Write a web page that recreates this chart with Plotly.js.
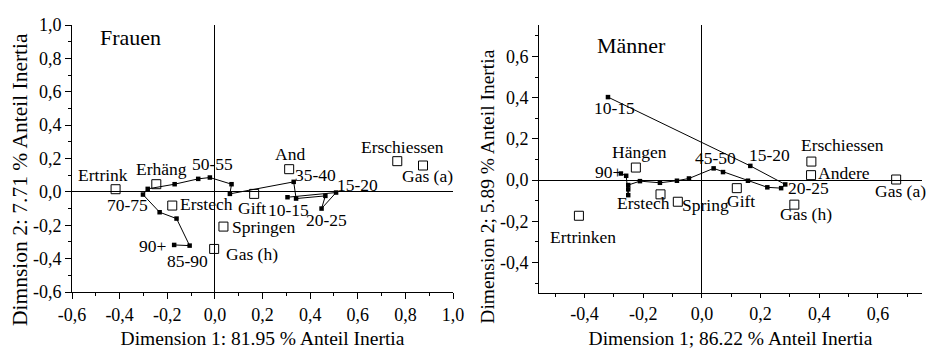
<!DOCTYPE html>
<html><head><meta charset="utf-8">
<script src="https://cdn.plot.ly/plotly-3.0.1.min.js"></script>
<style>html,body{margin:0;padding:0;background:#fff}#chart{width:926px;height:349px}</style>
</head><body><div id="chart"></div><script>
// ---- data ----
const ageGroups = ["10-15","15-20","20-25","25-30","30-35","35-40","40-45","45-50","50-55","55-60","60-65","65-70","70-75","75-80","80-85","85-90","90+"];

const womenAgeX = [0.305,0.509,0.448,0.464,0.341,0.331,0.063,0.070,-0.021,-0.070,-0.169,-0.282,-0.302,-0.232,-0.161,-0.106,-0.171];
const womenAgeY = [-0.032,-0.004,-0.100,-0.024,-0.040,0.060,-0.012,0.046,0.086,0.078,0.046,0.018,-0.016,-0.122,-0.160,-0.322,-0.318];
const womenAgeShown = ["10-15","15-20","20-25","35-40","50-55","70-75","85-90","90+"];
const womenCategories = ["Ertrink","Erhäng","Erstech","Gift","Springen","Gas (h)","And","Erschiessen","Gas (a)"];
const womenCatX = [-0.417,-0.246,-0.179,0.165,0.036,-0.003,0.312,0.766,0.874];
const womenCatY = [0.016,0.046,-0.082,-0.012,-0.208,-0.342,0.136,0.184,0.158];

const menAgeX = [-0.320,0.165,0.284,0.270,0.223,0.157,0.072,0.040,-0.044,-0.085,-0.143,-0.211,-0.251,-0.251,-0.251,-0.258,-0.276];
const menAgeY = [0.403,0.069,-0.021,-0.039,-0.035,-0.003,0.039,0.057,0.008,-0.003,-0.013,-0.005,-0.024,-0.045,-0.073,0.021,0.032];
const menAgeShown = ["10-15","15-20","20-25","45-50","90+"];
const menCategories = ["Hängen","Erschiessen","Andere","Gas (a)","Gift","Gas (h)","Erstech","Spring","Ertrinken"];
const menCatX = [-0.225,0.373,0.372,0.662,0.119,0.315,-0.141,-0.082,-0.419];
const menCatY = [0.061,0.090,0.024,0.003,-0.039,-0.119,-0.069,-0.105,-0.173];

const leftTickVals = [-0.6,-0.4,-0.2,0.0,0.2,0.4,0.6,0.8,1.0];
const leftTickText = ["-0,6","-0,4","-0,2","0,0","0,2","0,4","0,6","0,8","1,0"];
const rightTickVals = [-0.4,-0.2,0.0,0.2,0.4,0.6];
const rightTickText = ["-0,4","-0,2","0,0","0,2","0,4","0,6"];

const panelTitles = ["Frauen","Männer"];
const xTitles = ["Dimension 1: 81.95 % Anteil Inertia","Dimension 1; 86.22 % Anteil Inertia"];
const yTitles = ["Dimnsion 2: 7.71 % Anteil Inertia","Dimension 2; 5.89 % Anteil Inertia"];

// ---- label placement (pixel offsets: [dx, dy-up]) ----
const womenLabelOffset = {
  "Ertrink":[-13,14],"Erhäng":[5,15],"Erstech":[34,2],"Gift":[-2,-14],"Springen":[40,0],
  "Gas (h)":[38,-5],"And":[1,15],"Erschiessen":[5,14],"Gas (a)":[4,-10],
  "10-15":[1,-13],"15-20":[21,8],"20-25":[5,-11],"35-40":[22,7],"50-55":[3,14],
  "70-75":[-15,-10],"85-90":[-2,-15],"90+":[-21,-1]
};
const menLabelOffset = {
  "Hängen":[4,16],"Erschiessen":[31,17],"Andere":[33,2],"Gas (a)":[4,-11],"Gift":[4,-13],
  "Gas (h)":[12,-9],"Erstech":[-17,-9],"Spring":[28,-3],"Ertrinken":[4,-21],
  "10-15":[7,-11],"15-20":[19,11],"20-25":[23,-4],"45-50":[2,10],"90+":[-12,2]
};

const FONT = "Liberation Serif";
const LBL = 17.5;

function labelAnns(names, xs, ys, offs, xref, yref, shown) {
  const out = [];
  names.forEach((n, i) => {
    if (shown && shown.indexOf(n) < 0) return;
    const o = offs[n] || [0,0];
    out.push({x: xs[i], y: ys[i], xref: xref, yref: yref, text: n, showarrow: false,
      xanchor: 'center', yanchor: 'middle', xshift: o[0], yshift: o[1],
      font: {family: FONT, size: LBL, color: '#000'}});
  });
  return out;
}

const traces = [
  {x: womenAgeX, y: womenAgeY, text: ageGroups, type: 'scatter', mode: 'lines+markers', xaxis: 'x', yaxis: 'y',
   line: {color: '#000', width: 1}, marker: {symbol: 'square', size: 4.5, color: '#000'}, hoverinfo: 'text'},
  {x: womenCatX, y: womenCatY, text: womenCategories, type: 'scatter', mode: 'markers', xaxis: 'x', yaxis: 'y',
   marker: {symbol: 'square-open', size: 9, color: '#000', line: {width: 1}}, hoverinfo: 'text'},
  {x: menAgeX, y: menAgeY, text: ageGroups, type: 'scatter', mode: 'lines+markers', xaxis: 'x2', yaxis: 'y2',
   line: {color: '#000', width: 1}, marker: {symbol: 'square', size: 4.5, color: '#000'}, hoverinfo: 'text'},
  {x: menCatX, y: menCatY, text: menCategories, type: 'scatter', mode: 'markers', xaxis: 'x2', yaxis: 'y2',
   marker: {symbol: 'square-open', size: 9, color: '#000', line: {width: 1}}, hoverinfo: 'text'}
];

const tickFont = {family: FONT, size: 18, color: '#000'};
function axis(extra) {
  return Object.assign({
    showgrid: false, zeroline: true, zerolinecolor: '#000', zerolinewidth: 1,
    showline: true, linecolor: '#000', linewidth: 1, mirror: false,
    ticks: 'outside', ticklen: 6, tickwidth: 1, tickcolor: '#000',
    tickmode: 'array', tickfont: tickFont, fixedrange: true,
    minor: {tickmode: 'linear', tick0: 0, dtick: 0.1, ticks: 'outside', ticklen: 3, tickwidth: 1, tickcolor: '#000', showgrid: false}
  }, extra);
}

const annotations = []
  .concat(labelAnns(womenCategories, womenCatX, womenCatY, womenLabelOffset, 'x', 'y'))
  .concat(labelAnns(ageGroups, womenAgeX, womenAgeY, womenLabelOffset, 'x', 'y', womenAgeShown))
  .concat(labelAnns(menCategories, menCatX, menCatY, menLabelOffset, 'x2', 'y2'))
  .concat(labelAnns(ageGroups, menAgeX, menAgeY, menLabelOffset, 'x2', 'y2', menAgeShown))
  .concat([
    {xref: 'x domain', yref: 'y domain', x: 0.068, y: 0.955, xanchor: 'left', yanchor: 'middle', showarrow: false,
     text: panelTitles[0], font: {family: FONT, size: 22, color: '#000'}},
    {xref: 'x2 domain', yref: 'y2 domain', x: 0.146, y: 0.925, xanchor: 'left', yanchor: 'middle', showarrow: false,
     text: panelTitles[1], font: {family: FONT, size: 22, color: '#000'}},
    {xref: 'paper', yref: 'paper', x: 20/926, y: 1 - 180/349, xanchor: 'center', yanchor: 'middle', textangle: -90, showarrow: false,
     text: yTitles[0], font: {family: FONT, size: 21.5, color: '#000'}},
    {xref: 'paper', yref: 'paper', x: 486.7/926, y: 1 - 187/349, xanchor: 'center', yanchor: 'middle', textangle: -90, showarrow: false,
     text: yTitles[1], font: {family: FONT, size: 19.5, color: '#000'}}
  ]);

const layout = {
  width: 926, height: 349, margin: {l: 0, r: 0, t: 0, b: 0},
  paper_bgcolor: '#fff', plot_bgcolor: '#fff', showlegend: false,
  font: {family: FONT, color: '#000'},
  xaxis: axis({domain: [72/926, 453/926], range: [-0.6, 1.0], tickvals: leftTickVals, ticktext: leftTickText, anchor: 'y',
    title: {text: xTitles[0], font: {family: FONT, size: 19.5, color: '#000'}, standoff: 8}}),
  yaxis: axis({domain: [1 - 292/349, 1 - 25/349], range: [-0.6, 1.0], tickvals: leftTickVals, ticktext: leftTickText, anchor: 'x'}),
  xaxis2: axis({domain: [539/926, 922/926], range: [-0.555, 0.75], tickvals: rightTickVals, ticktext: rightTickText, anchor: 'y2',
    ticklen: 4, title: {text: xTitles[1], font: {family: FONT, size: 19.5, color: '#000'}, standoff: 8}}),
  yaxis2: axis({domain: [1 - 293/349, 1 - 25/349], range: [-0.548, 0.753], tickvals: rightTickVals, ticktext: rightTickText, anchor: 'x2'}),
  annotations: annotations
};

Plotly.newPlot('chart', traces, layout, {displayModeBar: false, staticPlot: true});
</script></body></html>
